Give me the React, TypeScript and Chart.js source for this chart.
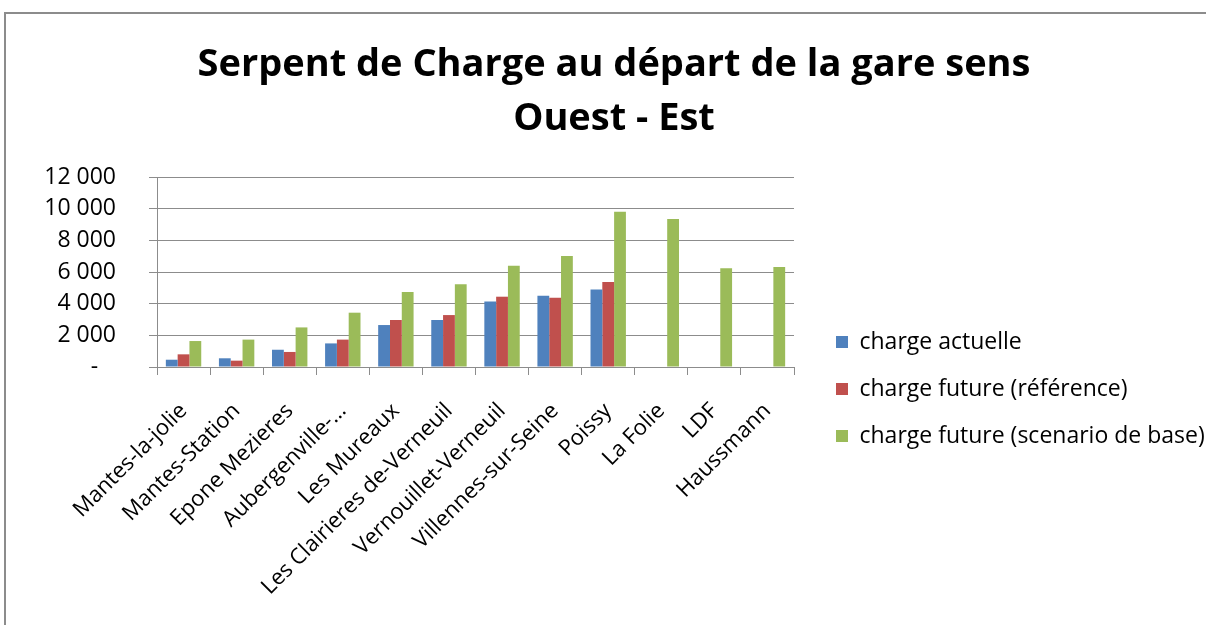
import React, { useEffect, useRef } from "react";
import { Chart, registerables } from "chart.js";

Chart.register(...registerables);

const titleLines = ["Serpent de Charge au départ de la gare sens", "Ouest - Est"];

const categories = [
  "Mantes-la-jolie",
  "Mantes-Station",
  "Epone Mezieres",
  "Aubergenville-…",
  "Les Mureaux",
  "Les Clairieres de-Verneuil",
  "Vernouillet-Verneuil",
  "Villennes-sur-Seine",
  "Poissy",
  "La Folie",
  "LDF",
  "Haussmann",
];

const chargeActuelle = [460, 550, 1090, 1490, 2650, 2970, 4130, 4500, 4900, null, null, null];
const chargeFutureReference = [800, 400, 950, 1730, 2970, 3280, 4440, 4380, 5370, null, null, null];
const chargeFutureBase = [1640, 1730, 2500, 3430, 4740, 5220, 6400, 7010, 9810, 9350, 6230, 6320];

const seriesNames = [
  "charge actuelle",
  "charge future (référence)",
  "charge future (scenario de base)",
];
const seriesColors = ["#4F81BD", "#C0504D", "#9BBB59"];

const yMin = 0;
const yMax = 12000;
const yStep = 2000;

const FONT = "'Open Sans', 'DejaVu Sans', sans-serif";
const GRID = "#8c8c8c";

const CANVAS_W = 1216;
const CANVAS_H = 750;
const LEGEND_W = 410;

function formatTick(v: number): string {
  if (v === 0) return "-   ";
  return String(v).replace(/\B(?=(\d{3})+(?!\d))/g, " ");
}

const legendWidthPlugin = {
  id: "legendWidth",
  beforeUpdate(chart: any) {
    const lg = chart.legend;
    if (lg && !lg.__patched) {
      const orig = lg.fit.bind(lg);
      lg.fit = function () {
        orig();
        this.width = LEGEND_W;
      };
      lg.__patched = true;
    }
  },
};

export default function App() {
  const ref = useRef<HTMLCanvasElement | null>(null);

  useEffect(() => {
    if (!ref.current) return;
    const seriesData = [chargeActuelle, chargeFutureReference, chargeFutureBase];
    const chart = new Chart(ref.current, {
      type: "bar",
      data: {
        labels: categories,
        datasets: seriesData.map((d, i) => ({
          label: seriesNames[i],
          data: d,
          backgroundColor: seriesColors[i],
          borderWidth: 0,
          categoryPercentage: 0.667,
          barPercentage: 1.0,
          yAxisID: "y",
        })),
      },
      plugins: [legendWidthPlugin],
      options: {
        responsive: false,
        animation: false,
        devicePixelRatio: 1,
        layout: { padding: { left: 0, right: 0, top: 0, bottom: 0 } },
        plugins: {
          title: {
            display: true,
            text: titleLines,
            color: "#000",
            font: { family: FONT, size: 38, weight: "bold", lineHeight: 1.4 },
            padding: { top: 25, bottom: 31.6 },
          },
          legend: {
            position: "right",
            align: "center",
            labels: {
              boxWidth: 12,
              boxHeight: 12,
              padding: 24,
              color: "#000",
              font: { family: FONT, size: 23 },
            },
          },
          tooltip: { enabled: false },
        },
        scales: {
          x: {
            grid: {
              display: true,
              drawOnChartArea: false,
              offset: true,
              tickLength: 8,
              color: GRID,
            },
            border: { color: GRID },
            ticks: {
              autoSkip: false,
              minRotation: 45,
              maxRotation: 45,
              color: "#000",
              font: { family: FONT, size: 22 },
              padding: 23,
              labelOffset: 0,
            },
            afterFit: (s: any) => {
              s.height = 397;
            },
          },
          y: {
            min: yMin,
            max: yMax,
            ticks: {
              stepSize: yStep,
              color: "#000",
              font: { family: FONT, size: 23 },
              padding: 33,
              callback: (v: any) => formatTick(Number(v)),
            },
            grid: { color: GRID, tickLength: 8 },
            border: { color: GRID },
            afterFit: (s: any) => {
              s.width = 151;
            },
          },
          y2: {
            position: "right",
            display: true,
            grid: { display: false },
            border: { display: false },
            ticks: { display: false },
            afterFit: (s: any) => {
              s.width = 18;
            },
          },
        },
      },
    });
    return () => chart.destroy();
  }, []);

  return (
    <div
      style={{
        position: "fixed",
        left: 4,
        top: 12,
        right: 0,
        bottom: 0,
        borderLeft: "2px solid #8c8c8c",
        borderTop: "2px solid #8c8c8c",
        overflow: "hidden",
        background: "#fff",
      }}
    >
      <canvas
        ref={ref}
        width={CANVAS_W}
        height={CANVAS_H}
        style={{ display: "block", width: CANVAS_W, height: CANVAS_H }}
      />
    </div>
  );
}
